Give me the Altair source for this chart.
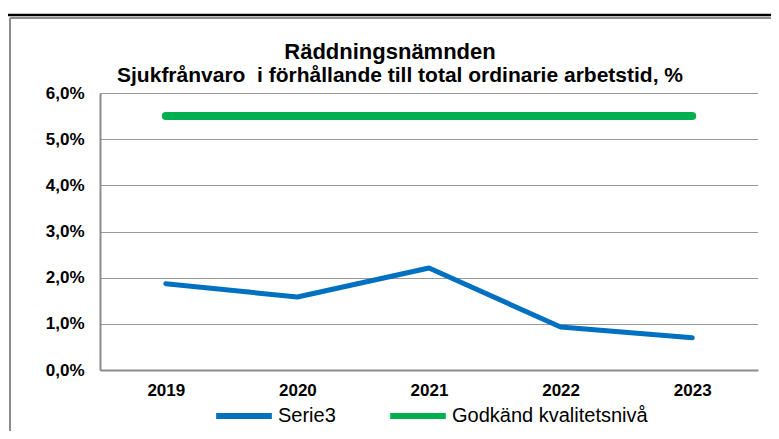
import altair as alt
import pandas as pd

years = ["2019", "2020", "2021", "2022", "2023"]
serie3 = [0.0187, 0.0158, 0.0221, 0.0093, 0.0070]
godkand = [0.055, 0.055, 0.055, 0.055, 0.055]
series_names = ["Serie3", "Godkänd kvalitetsnivå"]
series_colors = ["#0070C0", "#00B050"]
title_text = "Räddningsnämnden"
subtitle_text = "Sjukfrånvaro \u00a0i förhållande till total ordinarie arbetstid, %"

df = pd.DataFrame(
    {"year": years * 2,
     "value": serie3 + godkand,
     "series": [series_names[0]] * 5 + [series_names[1]] * 5}
)

FONT = "Liberation Sans"

color = alt.Color(
    "series:N",
    scale=alt.Scale(domain=series_names, range=series_colors),
    legend=alt.Legend(
        title=None, orient="none", legendX=113, legendY=292,
        direction="horizontal", symbolType="stroke", symbolSize=3100,
        symbolStrokeWidth=6, labelFont=FONT, labelFontSize=20,
        labelColor="#000000", labelLimit=400, columnPadding=42,
        labelOffset=3, symbolOffset=0,
    ),
)

x = alt.X(
    "year:O", sort=years, title=None,
    axis=alt.Axis(labelAngle=0, labelFont=FONT, labelFontSize=17,
                  labelFontWeight="bold", labelColor="#000000",
                  ticks=False, labelPadding=12, domainColor="#8c8c8c",
                  domainWidth=2, grid=False),
)
y = alt.Y(
    "value:Q", title=None,
    scale=alt.Scale(domain=[0, 0.06], nice=False),
    axis=alt.Axis(values=[0, 0.01, 0.02, 0.03, 0.04, 0.05, 0.06],
                  labelExpr="replace(format(datum.value, '.1%'), '.', ',')",
                  labelFont=FONT, labelFontSize=17, labelFontWeight="bold",
                  labelColor="#000000", ticks=False, labelPadding=16,
                  domainColor="#8c8c8c", domainWidth=2,
                  grid=True, gridColor="#333333", gridDash=[1, 1],
                  gridWidth=1),
)

base = alt.Chart(df)
blue = base.transform_filter(alt.datum.series == series_names[0]).mark_line(
    strokeWidth=5, strokeCap="round", strokeJoin="round"
).encode(x=x, y=y, color=color)
green = base.transform_filter(alt.datum.series == series_names[1]).mark_line(
    strokeWidth=8, strokeCap="round", strokeJoin="round"
).encode(x=x, y=y, color=color)

frame = alt.Data(values=[{"k": 1}])
black_top = alt.Chart(frame).mark_rule(color="#000000", strokeWidth=2.5).encode(
    x=alt.value(-92), x2=alt.value(671), y=alt.value(-78))
gray_top = alt.Chart(frame).mark_rule(color="#8c8c8c", strokeWidth=2).encode(
    x=alt.value(-90), x2=alt.value(671), y=alt.value(-75))
gray_left = alt.Chart(frame).mark_rule(color="#8c8c8c", strokeWidth=2).encode(
    x=alt.value(-90), y=alt.value(-75), y2=alt.value(338))

title_mark = alt.Chart(alt.Data(values=[{"t": title_text}])).mark_text(
    font=FONT, fontSize=22, fontWeight="bold", color="#000000",
    align="center", baseline="alphabetic"
).encode(text="t:N", x=alt.value(290), y=alt.value(-34))
subtitle_mark = alt.Chart(alt.Data(values=[{"t": subtitle_text}])).mark_text(
    font=FONT, fontSize=21, fontWeight="bold", color="#000000",
    align="center", baseline="alphabetic"
).encode(text="t:N", x=alt.value(300), y=alt.value(-11))

chart = alt.layer(
    black_top, gray_top, gray_left, title_mark, subtitle_mark, green, blue
).properties(
    width=658, height=277,
    autosize=alt.AutoSizeParams(type="none"),
    padding={"left": 92, "top": 85, "right": 13, "bottom": 61},
    background="white",
).configure_view(stroke=None)

chart.save("out.html", embed_options={"renderer": "svg", "actions": False})
